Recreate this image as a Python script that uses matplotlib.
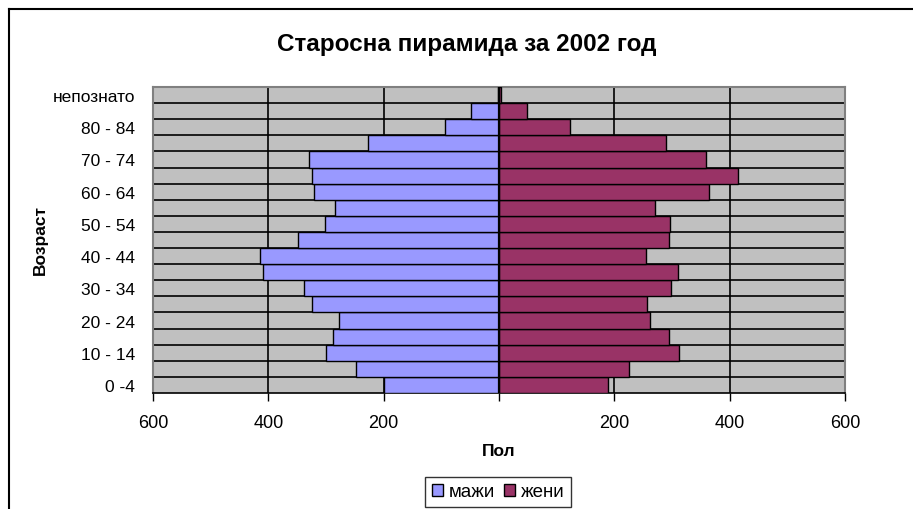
import matplotlib
matplotlib.use("Agg")
import matplotlib.pyplot as plt
from matplotlib.patches import Patch
from matplotlib.lines import Line2D
import numpy as np

plt.rcParams['font.family'] = ['Liberation Sans', 'DejaVu Sans']

categories = ["0 -4", "5 - 9", "10 - 14", "15 - 19", "20 - 24", "25 - 29", "30 - 34",
              "35 - 39", "40 - 44", "45 - 49", "50 - 54", "55 - 59", "60 - 64",
              "65 - 69", "70 - 74", "75 - 79", "80 - 84", "85+", "непознато"]
male = [199, 248, 300, 287, 277, 325, 338, 409, 414, 348, 301, 285, 320, 325, 330, 227, 93, 49, 1]
female = [189, 226, 313, 294, 262, 257, 299, 310, 255, 294, 297, 271, 365, 415, 359, 289, 123, 49, 4]
xticks = [-600, -400, -200, 0, 200, 400, 600]
xticklabels = ["600", "400", "200", "", "200", "400", "600"]

W, H = 913, 510
fig = plt.figure(figsize=(W / 100, H / 100), dpi=100)
fig.patch.set_facecolor("white")

ax = fig.add_axes([153 / W, 1 - 394 / H, (845 - 153) / W, (394 - 88) / H])
ax.set_facecolor("#C0C0C0")

y = np.arange(len(categories))
ax.barh(y, -np.array(male), height=1.0, color="#9999FF", edgecolor="black", linewidth=1.0, zorder=3, label="мажи")
ax.barh(y, female, height=1.0, color="#993366", edgecolor="black", linewidth=1.0, zorder=3, label="жени")

ax.set_xlim(-600, 600)
ax.set_ylim(-0.5, len(categories) - 0.5)

for v in [-400, -200, 200, 400]:
    ax.axvline(v, color="black", lw=1.2, zorder=2)
for b in np.arange(0.5, len(categories) - 0.5, 1.0):
    ax.axhline(b, color="black", lw=1.2, zorder=2)
ax.axvline(0, color="black", lw=1.6, zorder=4)

ax.set_xticks(xticks)
ax.set_xticklabels(xticklabels, fontsize=13)
ax.tick_params(axis="x", direction="out", length=6, width=1, color="black", pad=9)
ax.set_yticks(y)
ax.set_yticklabels([c if i % 2 == 0 else "" for i, c in enumerate(categories)], fontsize=12.5)
ax.tick_params(axis="y", length=0, pad=13)

for s in ["left", "right", "top"]:
    ax.spines[s].set_color("#808080")
    ax.spines[s].set_linewidth(1.5)
ax.spines["bottom"].set_color("black")
ax.spines["bottom"].set_linewidth(1.2)

fig.text(467 / W, 1 - 45 / H, "Старосна пирамида за 2002 год", ha="center", va="center",
         fontsize=17.5, fontweight="bold")
fig.text(499 / W, 1 - 452 / H, "Пол", ha="center", va="center", fontsize=12.5, fontweight="bold")
fig.text(40 / W, 1 - 240 / H, "Возраст", ha="center", va="center", rotation=90,
         fontsize=12.5, fontweight="bold")

handles = [Patch(facecolor="#9999FF", edgecolor="black"), Patch(facecolor="#993366", edgecolor="black")]
leg = fig.legend(handles, ["мажи", "жени"], loc="center", bbox_to_anchor=(498 / W, 1 - 493 / H),
                 ncol=2, fontsize=13.5, frameon=True, fancybox=False, handlelength=0.6,
                 handleheight=0.6, handletextpad=0.3, columnspacing=0.5, borderpad=0.35,
                 borderaxespad=0)
leg.get_frame().set_edgecolor("black")
leg.get_frame().set_linewidth(1.0)

top = 1 - 9.5 / H
left = 8.5 / W
fig.add_artist(Line2D([left, 1.0], [top, top], transform=fig.transFigure, color="black", lw=1.5))
fig.add_artist(Line2D([left, left], [0.0, top], transform=fig.transFigure, color="black", lw=1.5))

fig.savefig("out.png", dpi=100)
